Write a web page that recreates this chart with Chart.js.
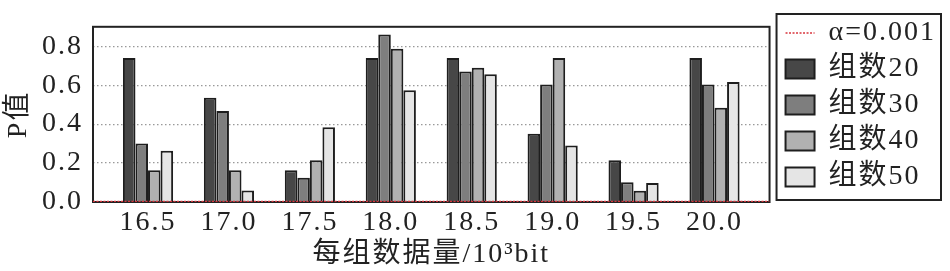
<!DOCTYPE html>
<html>
<head>
<meta charset="utf-8">
<script src="https://cdn.jsdelivr.net/npm/chart.js@4"></script>
<style>
html, body { margin: 0; padding: 0; background: #fff; }
#wrap { width: 950px; height: 271px; }
</style>
</head>
<body>
<div id="wrap"><canvas id="myChart"></canvas></div>
<script>
// data
const categories = [16.5, 17.0, 17.5, 18.0, 18.5, 19.0, 19.5, 20.0];
const zu20 = [0.74, 0.535, 0.163, 0.74, 0.74, 0.35, 0.214, 0.74];
const zu30 = [0.30, 0.468, 0.124, 0.861, 0.671, 0.603, 0.101, 0.603];
const zu40 = [0.163, 0.163, 0.214, 0.787, 0.689, 0.74, 0.058, 0.484];
const zu50 = [0.263, 0.059, 0.384, 0.574, 0.656, 0.29, 0.098, 0.617];
const alpha = 0.001;
const yTicks = [0, 0.2, 0.4, 0.6, 0.8];
const seriesNames = ['组数20', '组数30', '组数40', '组数50'];

const xMin = 16.16, xMax = 20.34;
const fnt = { family: '"Liberation Serif", "Noto Sans CJK SC", serif', size: 28 };
const txt = '#222';
const spacing = '2px';
const legendShift = 8;

const spacingPlugin = {
    id: 'spacing',
    afterInit(chart) {
        // push the legend a bit right of the space it reserves
        const lg = chart.legend;
        const d = lg.draw.bind(lg);
        lg.draw = area => {
            lg.ctx.save();
            lg.ctx.translate(legendShift, 0);
            d(area);
            lg.ctx.restore();
        };
    },
    beforeLayout(chart) { chart.ctx.letterSpacing = spacing; },
    beforeDraw(chart) { chart.ctx.letterSpacing = spacing; }
};

const framePlugin = {
    id: 'frame',
    beforeDatasetsDraw(chart) {
        const ctx = chart.ctx, a = chart.chartArea;
        ctx.save();
        ctx.strokeStyle = '#222';
        ctx.lineWidth = 2;
        ctx.strokeRect(a.left, a.top, a.right - a.left, a.bottom - a.top);
        ctx.restore();
    },
    afterDraw(chart) {
        const ctx = chart.ctx, boxes = chart.legend.legendHitBoxes;
        let l = Infinity, t = Infinity, r = -Infinity, b = -Infinity;
        boxes.forEach(h => {
            l = Math.min(l, h.left); t = Math.min(t, h.top);
            r = Math.max(r, h.left + h.width); b = Math.max(b, h.top + h.height);
        });
        l += legendShift; r += legendShift;
        ctx.save();
        ctx.strokeStyle = '#222';
        ctx.lineWidth = 2;
        ctx.strokeRect(l - 9, t - 5, r - l + 14, b - t + 14);
        ctx.restore();
    }
};

const bar = (name, vals, color) => ({
    type: 'bar',
    label: name,
    data: vals,
    backgroundColor: color,
    borderColor: '#1e1e1e',
    borderWidth: 2,
    pointStyle: 'rect',
    categoryPercentage: 0.62,
    barPercentage: 1,
    order: 1
});

const data = {
    labels: categories,
    datasets: [
        {
            type: 'line',
            label: 'α=' + alpha,
            data: [{ x: xMin, y: alpha }, { x: xMax, y: alpha }],
            borderColor: '#d8343c',
            backgroundColor: '#d8343c',
            borderWidth: 2,
            borderDash: [2, 1.5],
            pointRadius: 0,
            pointStyle: 'line',
            order: 0
        },
        bar(seriesNames[0], zu20, '#474747'),
        bar(seriesNames[1], zu30, '#7e7e7e'),
        bar(seriesNames[2], zu40, '#b1b1b1'),
        bar(seriesNames[3], zu50, '#e5e5e5')
    ]
};

const config = {
    type: 'bar',
    data: data,
    options: {
        responsive: true,
        maintainAspectRatio: false,
        animation: false,
        layout: { padding: { top: 3, right: 4 + legendShift } },
        datasets: { bar: { barPercentage: 1, categoryPercentage: 0.62 } },
        plugins: {
            tooltip: { enabled: false },
            legend: {
                position: 'right',
                align: 'start',
                title: { display: true, text: ' ', padding: 0, font: { size: 8, lineHeight: 1 } },
                labels: {
                    usePointStyle: true,
                    pointStyleWidth: 29,
                    boxHeight: 19,
                    padding: 8,
                    font: fnt,
                    color: txt,
                    generateLabels(chart) {
                        const items = Chart.defaults.plugins.legend.labels.generateLabels(chart);
                        items[0].lineDash = [2, 1.5];
                        items[0].lineWidth = 1.5;
                        items[0].strokeStyle = '#d8343c';
                        return items;
                    }
                }
            }
        },
        scales: {
            x: {
                type: 'linear',
                offset: false,
                min: xMin,
                max: xMax,
                afterBuildTicks: s => { s.ticks = categories.map(v => ({ value: v })); },
                afterFit: s => { s.height = 69; },
                ticks: { callback: v => v.toFixed(1), font: fnt, color: txt, padding: 4, autoSkip: false, maxRotation: 0 },
                grid: { display: false, drawTicks: false },
                border: { display: false },
                title: { display: true, text: '每组数据量/10³bit', font: fnt, color: txt, padding: 0 }
            },
            y: {
                min: 0,
                max: 0.9,
                afterBuildTicks: s => { s.ticks = yTicks.map(v => ({ value: v })); },
                afterFit: s => { s.width = 93; },
                ticks: { callback: v => v.toFixed(1), font: fnt, color: txt, padding: 10 },
                grid: { color: '#999', lineWidth: 1.2, drawTicks: false },
                border: { display: false, dash: [1.5, 2.5] },
                title: { display: true, text: 'P值', font: fnt, color: txt, padding: { top: 2, bottom: 0 } }
            }
        }
    },
    plugins: [spacingPlugin, framePlugin]
};

var myChart = new Chart(document.getElementById('myChart'), config);
</script>
</body>
</html>
